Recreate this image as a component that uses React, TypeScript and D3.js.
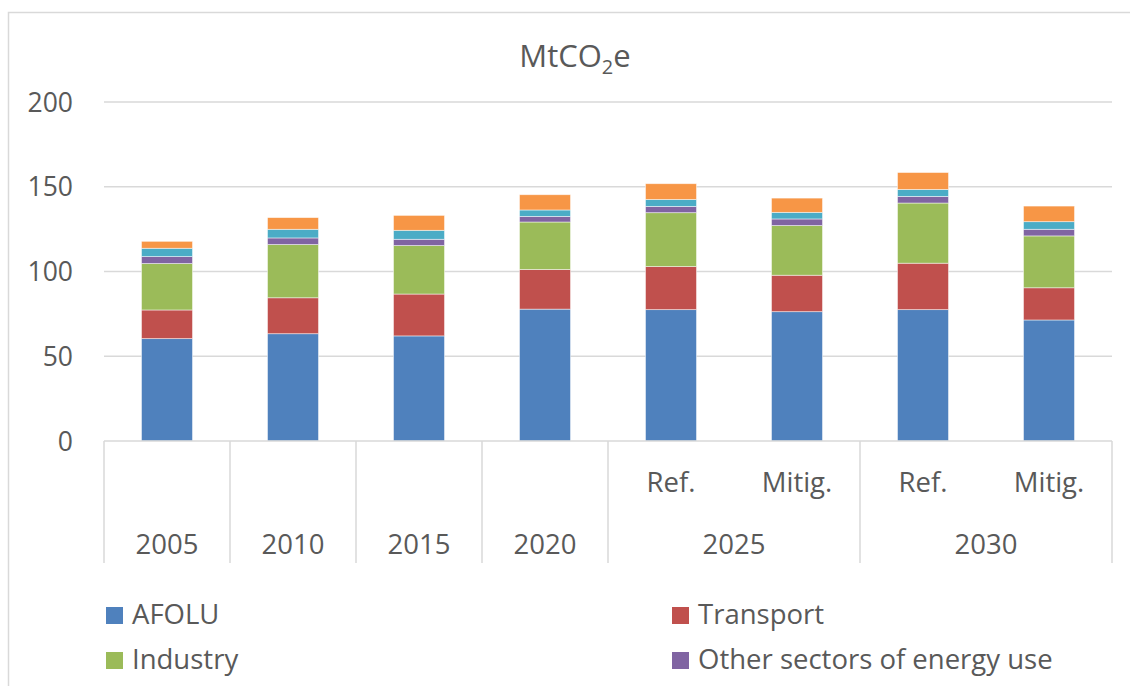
import React from 'react';
import * as d3 from 'd3';

// Bars: 2005..2020 historic, then Ref./Mitig. scenarios for 2025 and 2030
const barLabels = ['', '', '', '', 'Ref.', 'Mitig.', 'Ref.', 'Mitig.'];
const yearLabels = ['2005', '2010', '2015', '2020'];
const groupLabels = ['2025', '2030'];

const seriesNames = ['AFOLU', 'Transport', 'Industry', 'Other sectors of energy use', 'Energy industries', 'Waste'];
const seriesColors = ['#4f81bd', '#c0504d', '#9bbb59', '#8064a2', '#4bacc6', '#f79646'];

// MtCO2e per sector, one value per bar
const afolu = [60.4, 63.3, 62.0, 77.8, 77.5, 76.3, 77.5, 71.4];
const transport = [16.9, 21.2, 24.7, 23.4, 25.4, 21.5, 27.4, 19.0];
const industry = [27.4, 31.4, 28.6, 28.0, 31.8, 29.3, 35.5, 30.6];
const otherEnergy = [4.1, 3.9, 3.7, 3.3, 3.7, 3.9, 3.9, 3.9];
const energyIndustries = [4.9, 5.1, 5.3, 3.8, 4.1, 3.9, 4.1, 4.5];
const waste = [4.1, 6.9, 8.8, 9.0, 9.3, 8.4, 10.0, 9.2];

const yTicks = [0, 50, 100, 150, 200];

const W = 1130;
const H = 686;
const FONT = '"Open Sans", sans-serif';
const TXT = '#595959';
const GRID = '#d9d9d9';

const App = () => {
  const values = [afolu, transport, industry, otherEnergy, energyIndustries, waste];
  const rows = barLabels.map((_, i) => {
    const r: Record<string, number> = { idx: i };
    seriesNames.forEach((s, k) => { r[s] = values[k][i]; });
    return r;
  });
  const stacked = d3.stack<Record<string, number>>().keys(seriesNames)(rows);

  const x = d3.scaleBand<number>()
    .domain(d3.range(barLabels.length))
    .range([104, 1112])
    .paddingInner(0.595)
    .paddingOuter(0.2975);
  const y = d3.scaleLinear().domain([0, 200]).range([441, 102]);

  const x0 = x.range()[0];
  const step = x.step();
  const center = (i: number) => (x(i) as number) + x.bandwidth() / 2;
  const dividers = [0, 1, 2, 3, 4, 6, 8].map(i => x0 + i * step);

  // legend is two columns; the chart frame cuts it after the second row
  const legendItems = seriesNames
    .map((s, k) => ({ s, k, lx: k % 2 === 0 ? 106 : 672, ly: 607 + Math.floor(k / 2) * 45 }))
    .filter(d => d.ly + 20 < H);

  return (
    <svg width={W} height={H} style={{ position: 'absolute', left: 0, top: 0, background: '#fff' }}
      fontFamily={FONT}>
      <rect x={8.5} y={12.5} width={1200} height={800} fill="#fff" stroke={GRID} strokeWidth={1.5} />

      {/* title */}
      <text x={575} y={67} textAnchor="middle" fontSize={31} fill={TXT}>
        MtCO<tspan fontSize={20} dy={7}>2</tspan><tspan dy={-7}>e</tspan>
      </text>

      {/* gridlines and y ticks */}
      {yTicks.map(t => (
        <g key={t}>
          {t > 0 && <line x1={104} x2={1112} y1={y(t)} y2={y(t)} stroke={GRID} strokeWidth={1.5} />}
          <text x={73} y={y(t) + 9.5} textAnchor="end" fontSize={26.5} fill={TXT}>{t}</text>
        </g>
      ))}

      {/* stacked bars */}
      {stacked.map((layer, k) => (
        <g key={layer.key} fill={seriesColors[k]}>
          {layer.map((d, i) => (
            <rect key={i} x={x(i)} width={x.bandwidth()} y={y(d[1])} height={y(d[0]) - y(d[1])}
              stroke="#fff" strokeOpacity={0.6} strokeWidth={0.8} />
          ))}
        </g>
      ))}

      {/* category axis box */}
      <line x1={104} x2={1112} y1={441} y2={441} stroke={GRID} strokeWidth={1.5} />
      {dividers.map((d, i) => (
        <line key={i} x1={d} x2={d} y1={441} y2={563} stroke={GRID} strokeWidth={1.5} />
      ))}
      {barLabels.map((l, i) => l && (
        <text key={i} x={center(i)} y={492} textAnchor="middle" fontSize={27.5} fill={TXT}>{l}</text>
      ))}
      {yearLabels.map((l, i) => (
        <text key={l} x={center(i)} y={554} textAnchor="middle" fontSize={27.5} fill={TXT}>{l}</text>
      ))}
      {groupLabels.map((l, g) => (
        <text key={l} x={x0 + (4 + g * 2 + 1) * step} y={554} textAnchor="middle" fontSize={27.5} fill={TXT}>{l}</text>
      ))}

      {/* legend */}
      {legendItems.map(({ s, k, lx, ly }) => (
        <g key={s}>
          <rect x={lx} y={ly} width={17} height={17} fill={seriesColors[k]} />
          <text x={lx + 26} y={ly + 17} fontSize={27.5} fill={TXT}>{s}</text>
        </g>
      ))}
    </svg>
  );
};

export default App;
